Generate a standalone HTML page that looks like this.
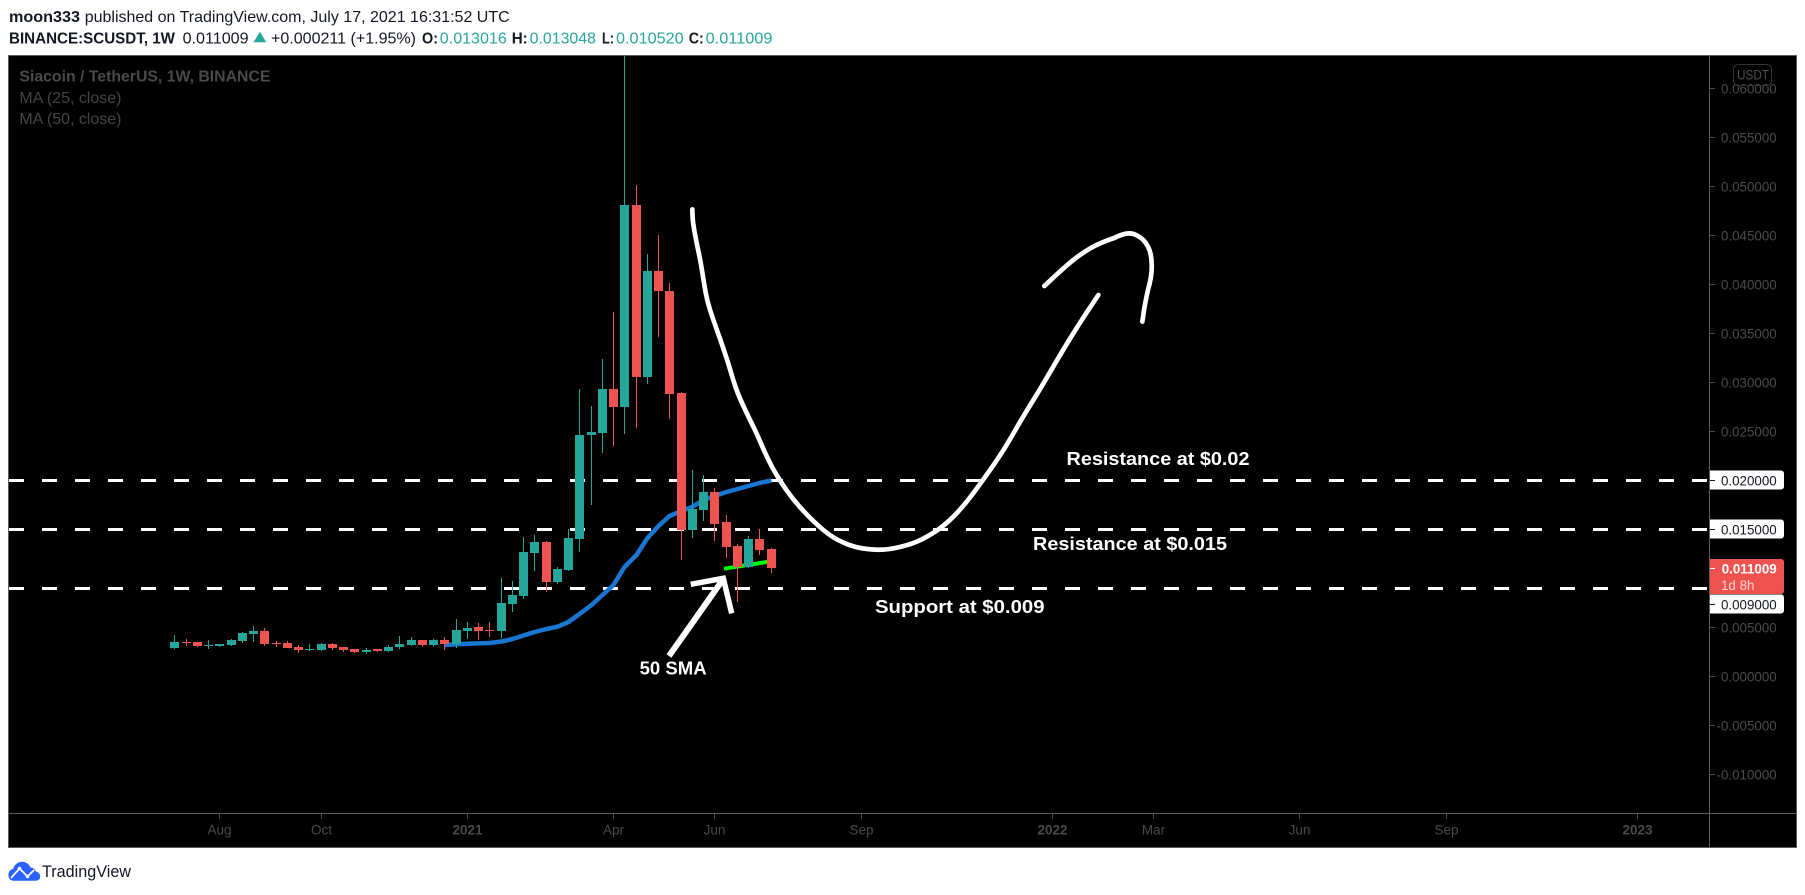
<!DOCTYPE html>
<html lang="en">
<head>
<meta charset="utf-8">
<title>SCUSDT 1W chart</title>
<style>
html,body{margin:0;padding:0;background:#fff;width:1805px;height:895px;overflow:hidden}
svg{display:block;font-family:"Liberation Sans",sans-serif}
</style>
</head>
<body>
<svg id="chart" xmlns="http://www.w3.org/2000/svg" width="1805" height="895" viewBox="0 0 1805 895">
  <defs>
    <clipPath id="pane-clip"><rect x="9" y="56" width="1700" height="757"/></clipPath>
  </defs>

  <g font-size="16" fill="#131722">
    <text x="9" y="22" font-weight="bold" textLength="71" lengthAdjust="spacingAndGlyphs">moon333</text>
    <text x="84.7" y="22" textLength="425" lengthAdjust="spacingAndGlyphs">published on TradingView.com, July 17, 2021 16:31:52 UTC</text>
    <text x="9" y="43.3" font-weight="bold" textLength="166" lengthAdjust="spacingAndGlyphs">BINANCE:SCUSDT, 1W</text>
    <text x="182.6" y="43.3" textLength="66" lengthAdjust="spacingAndGlyphs">0.011009</text>
    <polygon points="253.5,42.3 266.3,42.3 259.9,31.7" fill="#26a69a"/>
    <text x="271" y="43.3" textLength="145" lengthAdjust="spacingAndGlyphs">+0.000211 (+1.95%)</text>
    <text x="422" y="43.3" font-weight="bold" textLength="16" lengthAdjust="spacingAndGlyphs">O:</text>
    <text x="439.8" y="43.3" fill="#26a69a" textLength="67" lengthAdjust="spacingAndGlyphs">0.013016</text>
    <text x="511.7" y="43.3" font-weight="bold" textLength="16" lengthAdjust="spacingAndGlyphs">H:</text>
    <text x="529.6" y="43.3" fill="#26a69a" textLength="66.4" lengthAdjust="spacingAndGlyphs">0.013048</text>
    <text x="602" y="43.3" font-weight="bold" textLength="12" lengthAdjust="spacingAndGlyphs">L:</text>
    <text x="616" y="43.3" fill="#26a69a" textLength="67.7" lengthAdjust="spacingAndGlyphs">0.010520</text>
    <text x="688.8" y="43.3" font-weight="bold" textLength="15" lengthAdjust="spacingAndGlyphs">C:</text>
    <text x="705.6" y="43.3" fill="#26a69a" textLength="66.8" lengthAdjust="spacingAndGlyphs">0.011009</text>
  </g>

  <rect x="8" y="55" width="1789" height="793" fill="#000"/>

  <g id="pane" clip-path="url(#pane-clip)"></g>

  <g fill="none" stroke="#fff" stroke-linecap="round" stroke-linejoin="round">
    <g transform="translate(680 200) scale(.33333)" stroke-width="14">
      <path d="M37,28 L37.5,46 Q38,65 44,97.5 Q50,130 56,157.5 Q62,185 67,217.5 Q72,250 77,277.5 Q82,305 91,332.5 Q100,360 112.5,395 Q125,430 135,460 Q145,490 157.5,532.5 Q170,575 187.5,612.5 Q205,650 217.5,675 Q230,700 246,737.5 Q262,775 278.5,805 Q295,835 317.5,867.5 Q340,900 370,932.5 Q400,965 430,990 Q460,1015 490,1027.5 Q520,1042 560,1047 Q600,1052 635,1046 Q670,1040 697.5,1030 Q725,1020 757.5,1000 Q790,980 820,950 Q850,920 885,872.5 Q920,825 947.5,785 Q975,745 997.5,705 Q1020,665 1052.5,612.5 Q1085,560 1112.5,512.5 Q1140,465 1167.5,420 Q1195,375 1225,330 L1255,285"/>
      <path d="M1093,258 L1121.5,231.5 Q1150,205 1175,184 Q1200,163 1230,145.5 Q1260,128 1302.5,114 Q1345,92 1368,105 Q1390,115 1401,135 Q1414,155 1415,190 Q1417,225 1404.5,267.5 Q1395,310 1391,337.5 L1387,365"/>
    </g>
    <polyline points="669,656 723.3,579" stroke-width="6" stroke-linecap="butt"/>
    <polyline points="690.7,584.3 723.3,578.3 731.7,613.3" stroke-width="5.5" stroke-linecap="butt" stroke-linejoin="miter"/>
  </g>

  <g fill="#fff" font-size="18" font-weight="bold">
    <text x="1066.5" y="465" textLength="183" lengthAdjust="spacingAndGlyphs">Resistance at $0.02</text>
    <text x="1033" y="550" textLength="194" lengthAdjust="spacingAndGlyphs">Resistance at $0.015</text>
    <text x="875" y="613" textLength="169.5" lengthAdjust="spacingAndGlyphs">Support at $0.009</text>
    <text x="639.6" y="674.3" textLength="67" lengthAdjust="spacingAndGlyphs">50 SMA</text>
  </g>

  <g font-size="16">
    <text x="19.4" y="81.7" font-weight="bold" fill="#4a4a4a" textLength="251" lengthAdjust="spacingAndGlyphs">Siacoin / TetherUS, 1W, BINANCE</text>
    <text x="19.4" y="103" fill="#444" textLength="102" lengthAdjust="spacingAndGlyphs">MA (25, close)</text>
    <text x="19.4" y="124" fill="#444" textLength="102" lengthAdjust="spacingAndGlyphs">MA (50, close)</text>
  </g>

  <g id="price-axis" font-size="13.36"></g>
  <g id="time-axis" font-size="13.5"></g>

  <g>
    <rect x="1733.5" y="64.5" width="38" height="21" rx="5" fill="none" stroke="#2f333d"/>
    <text x="1753" y="79.3" text-anchor="middle" font-size="14" fill="#4f4f4f" textLength="32" lengthAdjust="spacingAndGlyphs">USDT</text>
  </g>

  <g fill="#5d5d5d">
    <rect x="8" y="55" width="1789" height="1"/>
    <rect x="8" y="55" width="1" height="793"/>
    <rect x="1796" y="55" width="1" height="793"/>
    <rect x="8" y="847" width="1789" height="1"/>
    <rect x="8" y="813" width="1789" height="1"/>
    <rect x="1709" y="55" width="1" height="793"/>
  </g>

  <g>
    <path fill="#2962ff" d="M8.4 875 C8.4 871.5 10.5 869.5 13 869 C14.5 864.5 18 861.7 22 861.7 C26 861.7 29 864 30.5 867.5 C33 867.5 35 869 35.8 871.5 C38.5 872 40.2 874 40.2 876.5 C40.2 879 38.5 880.7 36 880.7 L13.5 880.7 C10.5 880.7 8.4 878.5 8.4 875 Z"/>
    <polyline points="11,878 19.5,868.5 27.5,876.5 34,870" fill="none" stroke="#fff" stroke-width="1.8"/>
    <circle cx="19.5" cy="868.5" r="1.8" fill="#fff"/>
    <circle cx="27.5" cy="876.5" r="1.8" fill="#fff"/>
    <text x="42" y="877" font-size="16.5" fill="#131722" textLength="89" lengthAdjust="spacingAndGlyphs">TradingView</text>
  </g>
</svg>

<script>
var opens = [.002888,.003530,.003500,.003122,.003092,.003194,.003602,.004316,.004622,.003398,.003398,.002990,.002684,.002684,.003296,.002990,.002786,.002480,.002786,.002582,.002990,.003194,.003704,.003194,.003704,.003296,.004622,.005031,.004724,.004622,.007378,.008194,.012582,.013704,.009622,.010847,.014010,.024622,.024827,.029316,.027480,.048092,.030541,.041357,.039316,.028908,.014929,.016969,.018806,.015745,.013296,.011153,.014010,.013016];
var highs = [.004214,.003806,.003500,.003704,.003296,.003806,.004520,.005133,.004929,.003602,.003602,.003194,.003296,.003398,.003398,.002990,.002786,.002888,.002786,.003194,.004112,.004010,.003704,.003806,.004010,.005847,.005541,.005439,.005541,.010031,.009724,.014214,.014418,.013806,.011153,.015031,.029316,.027582,.032378,.037173,.066500,.050133,.043092,.045031,.040133,.029010,.021051,.020541,.019214,.016459,.013500,.014316,.015031,.013048];
var lows = [.002786,.003092,.002990,.002786,.002990,.003092,.003398,.003500,.003092,.002990,.002888,.002378,.002582,.002582,.002684,.002480,.002378,.002276,.002480,.002480,.002786,.003092,.002990,.002990,.002684,.002888,.003806,.003704,.004010,.003908,.006561,.007888,.010745,.008602,.009418,.010745,.012684,.017480,.022786,.023500,.024724,.025337,.029827,.034622,.026255,.011867,.014112,.015847,.013806,.012071,.007582,.011051,.012378,.010520];
var closes = [.003500,.003500,.003092,.003194,.003296,.003704,.004418,.004622,.003296,.003327,.002888,.002684,.002786,.003296,.002888,.002684,.002480,.002684,.002582,.002990,.003296,.003704,.003194,.003704,.003296,.004724,.004929,.004622,.004653,.007480,.008296,.012684,.013704,.009622,.010949,.014112,.024622,.024929,.029316,.027480,.048092,.030541,.041357,.039316,.028806,.014929,.017071,.018806,.015541,.013194,.011153,.014010,.012888,.011009];
var maStartIndex = 24;
var ma50 = [.003194,.003265,.003327,.003357,.003398,.003551,.003806,.004163,.004520,.004827,.005061,.005541,.006357,.007276,.008296,.009316,.011153,.012378,.014112,.015337,.016357,.016867,.017306,.017990,.018398,.018806,.019112,.019418,.019724,.019980];
var keyLevels = [0.02, 0.015, 0.009];
var trendLinePrices = [0.010980, 0.011694];
var trendLineIndex = [48.8, 52.75];
var priceTicks = [0.06,0.055,0.05,0.045,0.04,0.035,0.03,0.025,0.005,0,-0.005,-0.01];
var timeLabels = ["Aug","Oct","2021","Apr","Jun","Sep","2022","Mar","Jun","Sep","2023"];
var timeIndex = [4,13,26,39,48,61,78,87,100,113,130];
var timeBold = [false,false,true,false,false,false,true,false,false,false,true];
var lastPrice = 0.011009;
var countdown = "1d 8h";

var NS = "http://www.w3.org/2000/svg";
var UP = "#26a69a", DOWN = "#ef5350";
function xScale(i){ return Math.ceil(174 + 11.25 * i) + 0.5; }
function xFloat(i){ return 174.5 + 11.25 * i + 0.5; }
function yScale(p){ return 676.3 - 9800 * p; }
function make(tag, attrs, parent){
  var e = document.createElementNS(NS, tag);
  for (var k in attrs) e.setAttribute(k, attrs[k]);
  parent.appendChild(e);
  return e;
}
function fmt(p){ return (p < 0 ? "-" : "") + Math.abs(p).toFixed(6); }

var pane = document.getElementById("pane");
var priceAxis = document.getElementById("price-axis");
var timeAxis = document.getElementById("time-axis");

/* key level dashed lines */
keyLevels.forEach(function(level){
  var yy = Math.round(yScale(level));
  var line = make("line", {x1: 9, x2: 1709, y1: yy + 0.5, y2: yy + 0.5, stroke: "#fff", "stroke-width": 3, "stroke-dasharray": "15 18"}, pane);
  
  
});

/* 50 SMA */
var maPts = ma50.map(function(v, k){ return xScale(maStartIndex + k) + "," + yScale(v).toFixed(1); }).join(" ");
var maLine = make("polyline", {points: maPts, fill: "none", stroke: "#1976d2", "stroke-width": 4.5, "stroke-linejoin": "round"}, pane);



/* green trend line */
var trend = make("line", {x1: xFloat(trendLineIndex[0]), y1: yScale(trendLinePrices[0]), x2: xFloat(trendLineIndex[1]), y2: yScale(trendLinePrices[1]), stroke: "#00ff00", "stroke-width": 4}, pane);



/* candles */
opens.forEach(function(o, i){
  var c = closes[i], col = c >= o ? UP : DOWN, cx = xScale(i);
  var g = make("g", {fill: col}, pane);
  
  
  var hy = Math.round(yScale(highs[i])), ly = Math.round(yScale(lows[i]));
  var wick = make("rect", {x: cx - 0.5, y: hy, width: 1, height: Math.max(1, ly - hy)}, g);
  
  
  var top = Math.round(yScale(Math.max(o, c))), bot = Math.round(yScale(Math.min(o, c)));
  var body = make("rect", {x: cx - 4.5, y: top, width: 9, height: Math.max(1, bot - top)}, g);
  
  
});

/* price axis */
priceTicks.forEach(function(p){
  var yy = Math.round(yScale(p));
  var t = make("rect", {x: 1710, y: yy, width: 5, height: 1, fill: "#4a4a4a"}, priceAxis);
  
  
  var l = make("text", {x: 1776.7, y: yy + 5.3, "text-anchor": "end", fill: "#4a4a4a"}, priceAxis);
  l.textContent = fmt(p);
  
  
});

/* last price label */
var lastY = yScale(lastPrice);
var redTop = Math.round(lastY - 9.4), redBottom = redTop + 35;
var redBox = make("path", {d: "M1709 " + redTop + "h72a3 3 0 0 1 3 3v29a3 3 0 0 1 -3 3h-72z", fill: "#ef5350"}, priceAxis);


var redTick = make("rect", {x: 1710, y: Math.round(lastY), width: 5, height: 1, fill: "#fff"}, priceAxis);


var redText = make("text", {x: 1776.7, y: redTop + 14.7, "text-anchor": "end", fill: "#fff", "font-weight": "bold"}, priceAxis);
redText.textContent = lastPrice.toFixed(6);


var cd = make("text", {x: 1721, y: redTop + 31, fill: "#ffd4d4", "font-size": 13.36}, priceAxis);
cd.textContent = countdown;



/* key level labels */
keyLevels.forEach(function(level){
  var ly = yScale(level);
  if (level < lastPrice) ly = Math.max(ly, redBottom + 9.5);
  ly = Math.round(ly);
  var box = make("path", {d: "M1709 " + (ly - 9.5) + "h72a3 3 0 0 1 3 3v13a3 3 0 0 1 -3 3h-72z", fill: "#fff"}, priceAxis);
  
  
  var t = make("rect", {x: 1710, y: ly, width: 5, height: 1, fill: "#131722"}, priceAxis);
  
  
  var l = make("text", {x: 1776.7, y: ly + 5.3, "text-anchor": "end", fill: "#131722"}, priceAxis);
  l.textContent = level.toFixed(6);
  
  
});

/* time axis */
timeLabels.forEach(function(lbl, k){
  var xx = xScale(timeIndex[k]) - 0.5;
  var t = make("rect", {x: xx, y: 814, width: 1, height: 5, fill: "#4a4a4a"}, timeAxis);
  
  
  var l = make("text", {x: xx + 0.5, y: 834.5, "text-anchor": "middle", fill: "#4a4a4a", "font-weight": timeBold[k] ? "bold" : "normal"}, timeAxis);
  l.textContent = lbl;
  
  
});
</script>
</body>
</html>
